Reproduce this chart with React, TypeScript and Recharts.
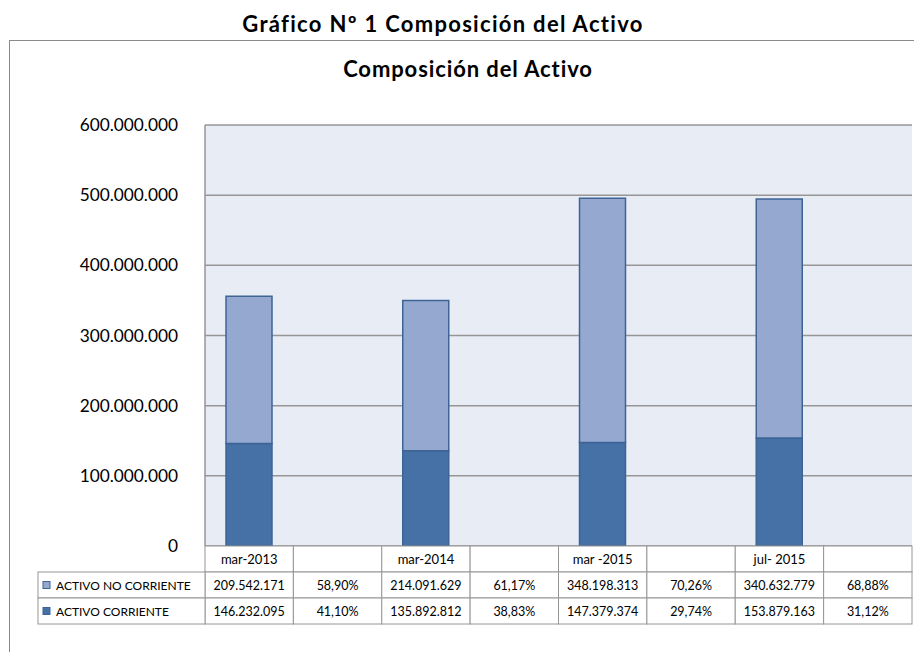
import { ComposedChart, Bar, XAxis, YAxis, CartesianGrid } from 'recharts';

// valores
const periods = ['mar-2013', 'mar-2014', 'mar -2015', 'jul- 2015'];
const activoNoCorriente = [209542171, 214091629, 348198313, 340632779];
const activoCorriente = [146232095, 135892812, 147379374, 153879163];
const pctNoCorriente = ['58,90%', '61,17%', '70,26%', '68,88%'];
const pctCorriente = ['41,10%', '38,83%', '29,74%', '31,12%'];
const yTicks = [0, 100000000, 200000000, 300000000, 400000000, 500000000, 600000000];

const seriesNames = ['ACTIVO NO CORRIENTE', 'ACTIVO CORRIENTE'];
const DARK = '#4571A6';
const LIGHT = '#95A9D0';
const EDGE = '#3E6496';
const GRID = '#969696';
const FONT = 'Lato, "Open Sans", sans-serif';

const W = 914;
const H = 652;
const PLOT_LEFT = 205;
const PLOT_RIGHT = 2;
const COL_W = (W - PLOT_LEFT - PLOT_RIGHT) / 8;
const ROW_H = 26;
const TABLE_LEFT = 38;

const fmt = (v: number) => String(v).replace(/\B(?=(\d{3})+(?!\d))/g, '.');

// 8 columnas: período y su columna de porcentaje
const data = periods.flatMap((p, i) => [
  {
    key: p,
    label: p,
    noCorriente: activoNoCorriente[i],
    corriente: activoCorriente[i],
    cellNo: fmt(activoNoCorriente[i]),
    cellCo: fmt(activoCorriente[i]),
  },
  {
    key: `pct-${i}`,
    label: '',
    cellNo: pctNoCorriente[i],
    cellCo: pctCorriente[i],
  },
]);

const TableTick = (props: any) => {
  const { x, y, index } = props;
  const row = data[index];
  if (!row) return null;
  const left = x - COL_W / 2;
  const cellText = { fontFamily: FONT, fontSize: 12.5, fill: '#000', textAnchor: 'middle' as const };
  return (
    <g>
      <rect x={left} y={y} width={COL_W} height={ROW_H} fill="#fff" stroke={GRID} />
      <rect x={left} y={y + ROW_H} width={COL_W} height={ROW_H} fill="#fff" stroke={GRID} />
      <rect x={left} y={y + ROW_H * 2} width={COL_W} height={ROW_H} fill="#fff" stroke={GRID} />
      <text x={x} y={y + ROW_H / 2 + 4.5} {...cellText} fontSize={13}>{row.label}</text>
      <text x={x} y={y + ROW_H * 1.5 + 4.5} {...cellText}>{row.cellNo}</text>
      <text x={x} y={y + ROW_H * 2.5 + 4.5} {...cellText}>{row.cellCo}</text>
      {index === 0 && (
        <g>
          {seriesNames.map((name, i) => (
            <g key={name}>
              <rect
                x={TABLE_LEFT}
                y={y + ROW_H * (i + 1)}
                width={left - TABLE_LEFT}
                height={ROW_H}
                fill="#fff"
                stroke={GRID}
              />
              <rect
                x={TABLE_LEFT + 5}
                y={y + ROW_H * (i + 1.5) - 3.5}
                width={7}
                height={7}
                fill={i === 0 ? LIGHT : DARK}
                stroke={EDGE}
              />
              <text
                x={TABLE_LEFT + 18}
                y={y + ROW_H * (i + 1.5) + 4.5}
                fontFamily={FONT}
                fontSize={12}
                fill="#000"
              >
                {name}
              </text>
            </g>
          ))}
        </g>
      )}
    </g>
  );
};

export default function App() {
  return (
    <div
      style={{
        position: 'absolute',
        left: 0,
        top: 0,
        width: W,
        height: H,
        overflow: 'hidden',
        background: '#fff',
        fontFamily: FONT,
      }}
    >
      <div
        style={{
          position: 'absolute',
          left: 0,
          width: 886,
          top: 11,
          textAlign: 'center',
          fontWeight: 700,
          fontSize: 22,
          letterSpacing: 1.3,
          lineHeight: '26px',
        }}
      >
        Gráfico Nº 1 Composición del Activo
      </div>
      {/* marco del área del gráfico */}
      <div
        style={{
          position: 'absolute',
          left: 9,
          top: 40,
          width: 1000,
          height: 700,
          borderLeft: '1.5px solid #8a8a8a',
          borderTop: '1.5px solid #8a8a8a',
        }}
      />
      <div
        style={{
          position: 'absolute',
          left: 9,
          width: 918,
          top: 56,
          textAlign: 'center',
          fontWeight: 700,
          fontSize: 22,
          letterSpacing: 0.9,
          lineHeight: '26px',
        }}
      >
        Composición del Activo
      </div>
      <div style={{ position: 'absolute', left: 0, top: 0 }}>
        <ComposedChart
          width={W}
          height={H}
          data={data}
          barSize={46}
          margin={{ top: 125, right: PLOT_RIGHT, bottom: 26, left: 0 }}
        >
          <CartesianGrid vertical={false} stroke={GRID} strokeWidth={1.5} fill="#E8ECF4" />
          <XAxis
            dataKey="key"
            interval={0}
            height={80}
            tickLine={false}
            axisLine={false}
            tickSize={0}
            tickMargin={0}
            tick={<TableTick />}
          />
          <YAxis
            width={PLOT_LEFT}
            domain={[0, 600000000]}
            ticks={yTicks}
            tickFormatter={fmt}
            tickLine={false}
            tickSize={0}
            tickMargin={27}
            axisLine={{ stroke: GRID, strokeWidth: 1.5 }}
            tick={{ fontFamily: FONT, fontSize: 17.3, fill: '#000' }}
          />
          <Bar
            dataKey="corriente"
            name={seriesNames[1]}
            stackId="a"
            fill={DARK}
            stroke={EDGE}
            strokeWidth={1.5}
            isAnimationActive={false}
          />
          <Bar
            dataKey="noCorriente"
            name={seriesNames[0]}
            stackId="a"
            fill={LIGHT}
            stroke={EDGE}
            strokeWidth={1.5}
            isAnimationActive={false}
          />
        </ComposedChart>
      </div>
    </div>
  );
}
